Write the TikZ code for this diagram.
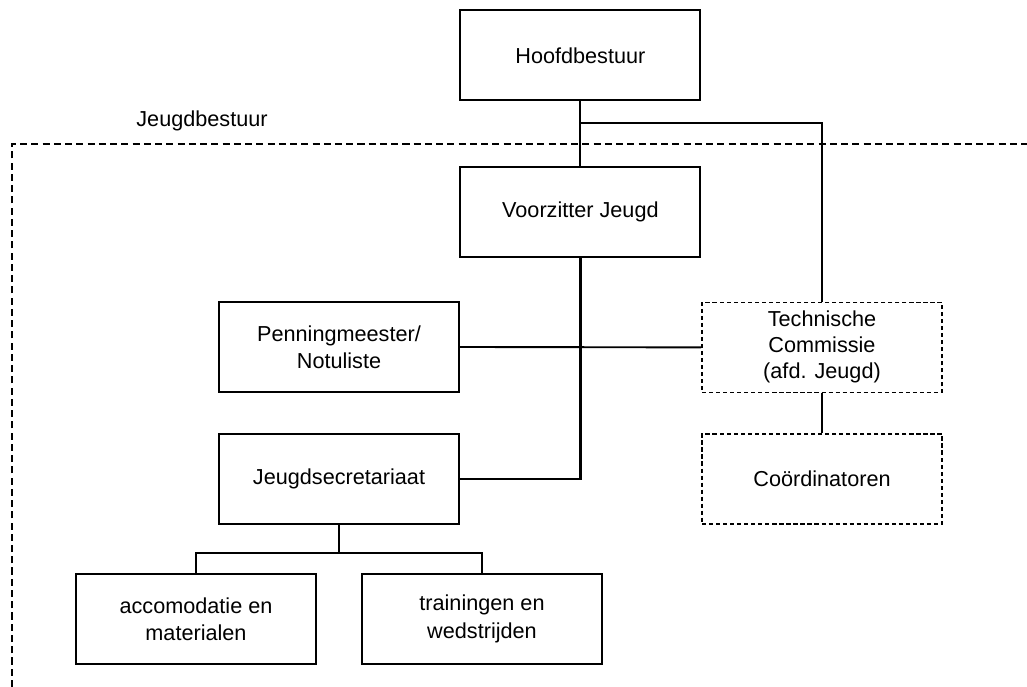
\documentclass[tikz,border=0pt]{standalone}
\usepackage{fontspec}
\setmainfont{Liberation Sans}
\usepackage{tikz}
\usetikzlibrary{positioning}
\usetikzlibrary{shapes,arrows,calc}

\tikzset{
    orgbox/.style={rectangle,draw,line width=1.35pt,minimum width=6cm,
        minimum height=2.25cm,align=center,inner sep=2pt},
    tcbox/.style={orgbox,line width=1.2pt,dash pattern=on 3pt off 2pt,
        font=\fontsize{15.4}{18.5}\selectfont},
    link/.style={line width=1.35pt},
    mainlink/.style={line width=1.9pt}
}

\begin{document}
\begin{tikzpicture}[every node/.style={font=\fontsize{15.4}{19.5}\selectfont}]
        \useasboundingbox (0,0) rectangle (25.675,17.175);

        % jeugdbestuur frame
        \draw[line width=1.3pt,dash pattern=on 5pt off 3pt] (0.3,0) --
            (0.3,13.575) -- (25.675,13.575);
        \node (jbLabel) at (5.05,14.15) {Jeugdbestuur};

        % boxes
        \node[orgbox] (hoofd) at (14.51,15.79) {Hoofdbestuur};
        \node[orgbox] (voorz) at (14.51,11.875) {Voorzitter Jeugd};
        \node[orgbox] (penning) at (8.475,8.5) {Penningmeester/\\Notuliste};
        \node[tcbox] (tc) at (20.55,8.49) {Technische\\Commissie\\(afd. Jeugd)};
        \node[orgbox] (jsec) at (8.475,5.2) {Jeugdsecretariaat};
        \node[tcbox] (coord) at (20.55,5.2) {Coördinatoren};
        \node[orgbox] (accom) at (4.9,1.7) {accomodatie en\\materialen};
        \node[orgbox] (train) at (12.05,1.7) {trainingen en\\wedstrijden};

        % lines
        \coordinate (split) at ($(hoofd.south)!0.34!(voorz.north)$);
        \draw[link] (hoofd.south) -- (voorz.north);
        \draw[link] (split) -| (tc.north);
        \draw[mainlink] (voorz.south) |- (jsec.east);
        \draw[link] (penning.east) -- (tc.west);
        \draw[link] (tc.south) -- (coord.north);
        \draw[mainlink] (jsec.south) -- ++(0,-0.7) coordinate (fork);
        \draw[link] (fork) -| (accom.north);
        \draw[link] (fork) -| (train.north);

    \end{tikzpicture}
\end{document}
